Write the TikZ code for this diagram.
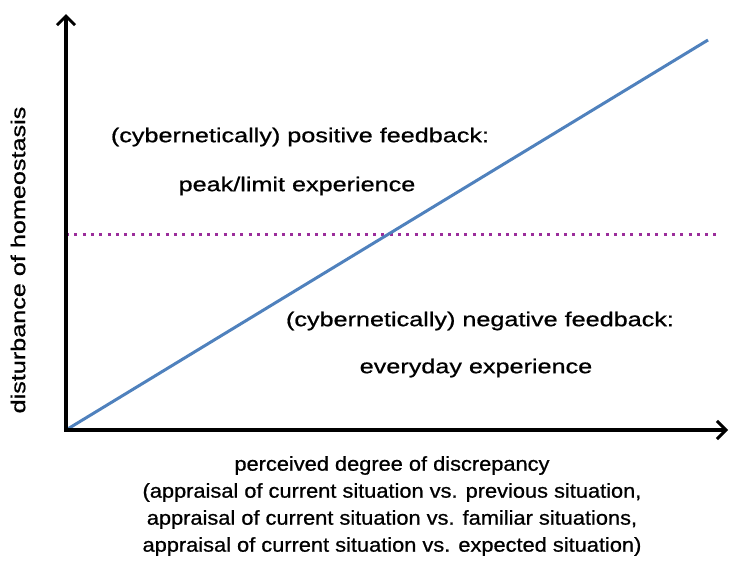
\documentclass[tikz,border=0pt]{standalone}
\usepackage{fontspec}
\setmainfont{Liberation Sans}
\newfontfamily\widesans[FakeStretch=1.26,FakeBold=0.8]{Liberation Sans}
\newfontfamily\axissans[FakeStretch=1.09,FakeBold=0.8]{Liberation Sans}
\usetikzlibrary{arrows.meta}
\definecolor{lineblue}{HTML}{4F81BD}
\definecolor{dotpurple}{HTML}{9B2D9B}
\begin{document}
\begin{tikzpicture}[x=1pt,y=-1pt,
  axis/.style={line width=4pt,-{Straight Barb[length=9pt,width=18pt,line width=3pt]}},
  lbl/.style={font=\widesans\fontsize{20}{24}\selectfont,inner sep=0pt}]
\useasboundingbox (0,0) rectangle (731,563);
\coordinate (o) at (66,430);
\coordinate (ytop) at (66,14);
\coordinate (xend) at (728,430);
\coordinate (lend) at (708,40);
\coordinate (dl) at (66,234);
\coordinate (dr) at (716,234);
% discrepancy threshold
\draw[dotpurple,line width=3pt,dash pattern=on 3pt off 5.3pt] (dl) -- (dr);
% response line
\draw[lineblue,line width=3pt] (o) -- (lend);
% axes
\draw[axis,line cap=rect] (o) -- (ytop);
\draw[axis] (o) -- (xend);
\node[lbl] (pos) at (300,137) {(cybernetically) positive feedback:};
\node[lbl] (peak) at (297,186) {peak/limit experience};
\node[lbl] (neg) at (480,321) {(cybernetically) negative feedback:};
\node[lbl] (every) at (476,368) {everyday experience};
\node[lbl,rotate=90] (ylab) at (18,260) {disturbance of homeostasis};
\node[inner sep=0pt,align=center,font=\axissans\fontsize{20}{27}\selectfont] (xlab) at (392,506) {perceived degree of discrepancy\\(appraisal of current situation vs. previous situation,\\appraisal of current situation vs. familiar situations,\\appraisal of current situation vs. expected situation)};
\end{tikzpicture}
\end{document}
